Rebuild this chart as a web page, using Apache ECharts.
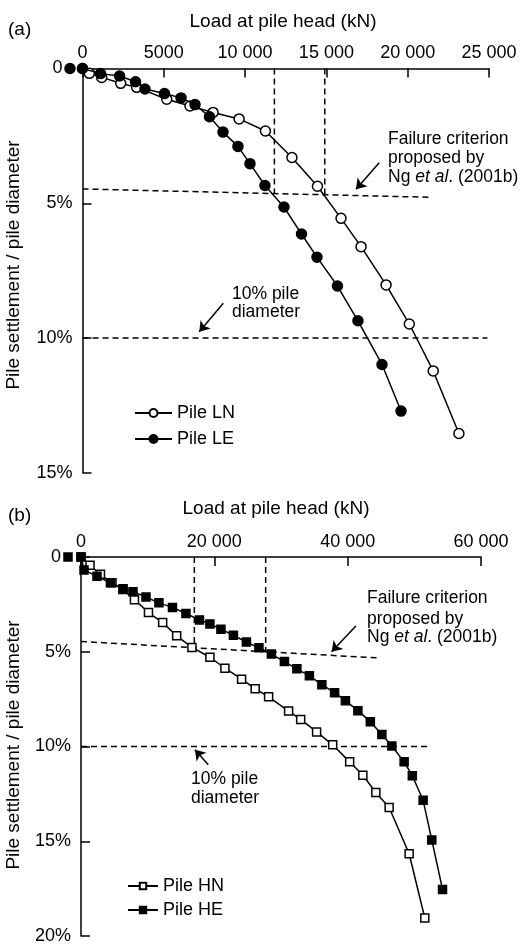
<!DOCTYPE html>
<html>
<head>
<meta charset="utf-8">
<script src="https://cdn.jsdelivr.net/npm/echarts@6/dist/echarts.min.js"></script>
<style>
  html, body { margin: 0; padding: 0; background: #fff; }
  #chart { width: 530px; height: 945px; }
</style>
</head>
<body>
<div id="chart"></div>
<script>
// ---- Panel (a): light piles ----
const xTicksA = ['0', '5000', '10 000', '15 000', '20 000', '25 000'];
const yTicksA = ['0', '5%', '10%', '15%'];
const loadLN = [0, 420, 1180, 2350, 3330, 5180, 6610, 8030, 9630, 11250, 12880, 14450, 15900, 17130, 18670, 20100, 21570, 23150];
const settleLN = [0, 0.18, 0.33, 0.55, 0.70, 1.14, 1.39, 1.63, 1.87, 2.32, 3.30, 4.37, 5.56, 6.61, 8.03, 9.48, 11.22, 13.54];
const loadLE = [-770, 0, 1110, 2280, 3260, 3840, 5040, 6060, 6920, 7810, 8640, 9560, 10300, 11220, 12390, 13470, 14420, 15680, 16940, 18420, 19590];
const settleLE = [0, 0, 0.19, 0.28, 0.49, 0.76, 0.93, 1.09, 1.34, 1.79, 2.36, 2.89, 3.53, 4.34, 5.14, 6.14, 7.00, 8.07, 9.36, 10.98, 12.71];
// failure criterion, its two intersections, and the 10% diameter line
const critA = [[0, 4.47], [21500, 4.78]];
const failA1 = [[11800, 0], [11800, 4.62]];
const failA2 = [[14900, 0], [14900, 4.68]];
const tenA = [[0, 10], [24900, 10]];
const arrowCritA = [[18250, 3.50], [16820, 4.48]];
const arrowTenA = [[8660, 8.71], [7180, 9.77]];

// ---- Panel (b): heavy piles ----
const xTicksB = ['0', '20 000', '40 000', '60 000'];
const yTicksB = ['0', '5%', '10%', '15%', '20%'];
const loadHN = [0, 1350, 2920, 4650, 6300, 8020, 10120, 12250, 14350, 16640, 19340, 21590, 24090, 26130, 28140, 31140, 32950, 35340, 37750, 40300, 42280, 44230, 46220, 49220, 51570];
const settleHN = [0, 0.44, 0.91, 1.36, 1.72, 2.25, 2.93, 3.46, 4.16, 4.77, 5.29, 5.87, 6.45, 6.95, 7.38, 8.13, 8.57, 9.23, 9.91, 10.81, 11.52, 12.43, 13.22, 15.66, 19.05];
const loadHE = [-1950, 0, 450, 2400, 4420, 6300, 7800, 9750, 11690, 13720, 15740, 17770, 19340, 20990, 22860, 24810, 26690, 28560, 30510, 32380, 34260, 36130, 38040, 39660, 41530, 43400, 45130, 46630, 48470, 49700, 51320, 52620, 54230];
const settleHE = [0, 0, 0.68, 1.02, 1.36, 1.67, 1.83, 2.11, 2.42, 2.66, 2.98, 3.32, 3.53, 3.81, 4.13, 4.49, 4.79, 5.12, 5.52, 5.90, 6.27, 6.74, 7.16, 7.58, 8.11, 8.69, 9.37, 9.97, 10.81, 11.54, 12.84, 14.93, 17.54];
const critB = [[0, 4.46], [44700, 5.33]];
const failB1 = [[17000, 0], [17000, 4.84]];
const failB2 = [[27700, 0], [27700, 5.03]];
const tenB = [[0, 10], [52100, 10]];
const arrowCritB = [[41230, 3.64], [37590, 5.00]];
const arrowTenB = [[19090, 10.96], [17090, 10.17]];

const FONT = '"Liberation Sans", Arial, sans-serif';
const pairs = (xs, ys) => xs.map((x, i) => [x, ys[i]]);

function xAxis(gridIndex, max, interval, ticks) {
  return {
    gridIndex, type: 'value', position: 'top', min: 0, max, interval,
    axisLine: { show: true, onZero: false, lineStyle: { color: '#000', width: 1.5 } },
    axisTick: { show: true, inside: true, length: 9, lineStyle: { color: '#000', width: 1.5 } },
    axisLabel: {
      color: '#000', fontSize: 18, fontFamily: FONT, margin: 6,
      formatter: v => ticks[Math.round(v / interval)] || ''
    },
    splitLine: { show: false }
  };
}
function yAxis(gridIndex, max, ticks) {
  return {
    gridIndex, type: 'value', inverse: true, min: 0, max, interval: 5,
    axisLine: { show: true, onZero: false, lineStyle: { color: '#000', width: 1.5 } },
    axisTick: { show: true, inside: true, length: 9, lineStyle: { color: '#000', width: 1.5 } },
    axisLabel: {
      color: '#000', fontSize: 18, fontFamily: FONT, margin: 10,
      formatter: v => { const t = ticks[Math.round(v / 5)]; return v === 0 ? '{z|' + t + '}' : t; },
      rich: { z: { fontSize: 18, fontFamily: FONT, color: '#000', padding: [0, 10, 0, 0] } }
    },
    splitLine: { show: false }
  };
}
function curve(name, xi, data, symbol, size, filled) {
  return {
    name, type: 'line', xAxisIndex: xi, yAxisIndex: xi, data, clip: false,
    symbol, symbolSize: size, showSymbol: true,
    lineStyle: { color: '#000', width: 1.5 },
    itemStyle: { color: filled ? '#000' : '#fff', borderColor: '#000', borderWidth: 1.5 },
    z: filled ? 4 : 3
  };
}
function dashed(xi, data) {
  return {
    type: 'line', xAxisIndex: xi, yAxisIndex: xi, data, symbol: 'none', clip: false, silent: true,
    lineStyle: { color: '#000', width: 1.5, type: [6, 4] }, z: 2
  };
}
// pointer arrows drawn in data coordinates
function arrows(xi, list) {
  return {
    type: 'lines', coordinateSystem: 'cartesian2d', xAxisIndex: xi, yAxisIndex: xi,
    silent: true, symbol: ['none', 'arrow'], symbolSize: 10, clip: false,
    lineStyle: { color: '#000', width: 1.5, opacity: 1 },
    itemStyle: { color: '#000' },
    data: list.map(a => ({ coords: a })), z: 5
  };
}
function txt(x, y, text, size, align, rot) {
  return {
    type: 'text', x, y, rotation: rot || 0,
    style: {
      text, fill: '#000', fontSize: size, fontFamily: FONT,
      align: align || 'left', verticalAlign: 'middle',
      rich: { i: { fontStyle: 'italic', fontSize: size, fontFamily: FONT, fill: '#000' } }
    }
  };
}

const chart = echarts.init(document.getElementById('chart'), null, { renderer: 'canvas' });
chart.setOption({
  animation: false,
  backgroundColor: '#fff',
  grid: [
    { left: 82.5, top: 68.5, width: 406.5, height: 404.3 },
    { left: 81, top: 557, width: 400, height: 383 }
  ],
  xAxis: [xAxis(0, 25000, 5000, xTicksA), xAxis(1, 60000, 20000, xTicksB)],
  yAxis: [yAxis(0, 15, yTicksA), yAxis(1, 20, yTicksB)],
  legend: [
    {
      data: ['Pile LN', 'Pile LE'], orient: 'vertical', left: 129, top: 399,
      itemWidth: 37, itemHeight: 10, itemGap: 8,
      textStyle: { fontSize: 18, fontFamily: FONT, color: '#000' }
    },
    {
      data: ['Pile HN', 'Pile HE'], orient: 'vertical', left: 122, top: 872,
      itemWidth: 30, itemHeight: 8, itemGap: 6,
      textStyle: { fontSize: 18, fontFamily: FONT, color: '#000' }
    }
  ],
  series: [
    dashed(0, critA), dashed(0, failA1), dashed(0, failA2), dashed(0, tenA),
    arrows(0, [arrowCritA, arrowTenA]),
    curve('Pile LN', 0, pairs(loadLN, settleLN), 'circle', 10, false),
    curve('Pile LE', 0, pairs(loadLE, settleLE), 'circle', 10, true),
    dashed(1, critB), dashed(1, failB1), dashed(1, failB2), dashed(1, tenB),
    arrows(1, [arrowCritB, arrowTenB]),
    curve('Pile HN', 1, pairs(loadHN, settleHN), 'rect', 8, false),
    curve('Pile HE', 1, pairs(loadHE, settleHE), 'rect', 8, true)
  ],
  graphic: [
    txt(8, 30, '(a)', 19),
    txt(283, 22, 'Load at pile head (kN)', 19, 'center'),
    txt(14, 265, 'Pile settlement / pile diameter', 19, 'center', Math.PI / 2),
    txt(388, 139, 'Failure criterion', 17.5),
    txt(388, 158, 'proposed by', 17.5),
    txt(388, 177, 'Ng {i|et al}. (2001b)', 17.5),
    txt(232, 294, '10% pile', 17.5),
    txt(232, 312, 'diameter', 17.5),

    txt(8, 516, '(b)', 19),
    txt(276, 509, 'Load at pile head (kN)', 19, 'center'),
    txt(14, 745, 'Pile settlement / pile diameter', 19, 'center', Math.PI / 2),
    txt(367, 598, 'Failure criterion', 17.5),
    txt(367, 619, 'proposed by', 17.5),
    txt(367, 637, 'Ng {i|et al}. (2001b)', 17.5),
    txt(191, 779, '10% pile', 17.5),
    txt(191, 798, 'diameter', 17.5)
  ]
});
</script>
</body>
</html>
